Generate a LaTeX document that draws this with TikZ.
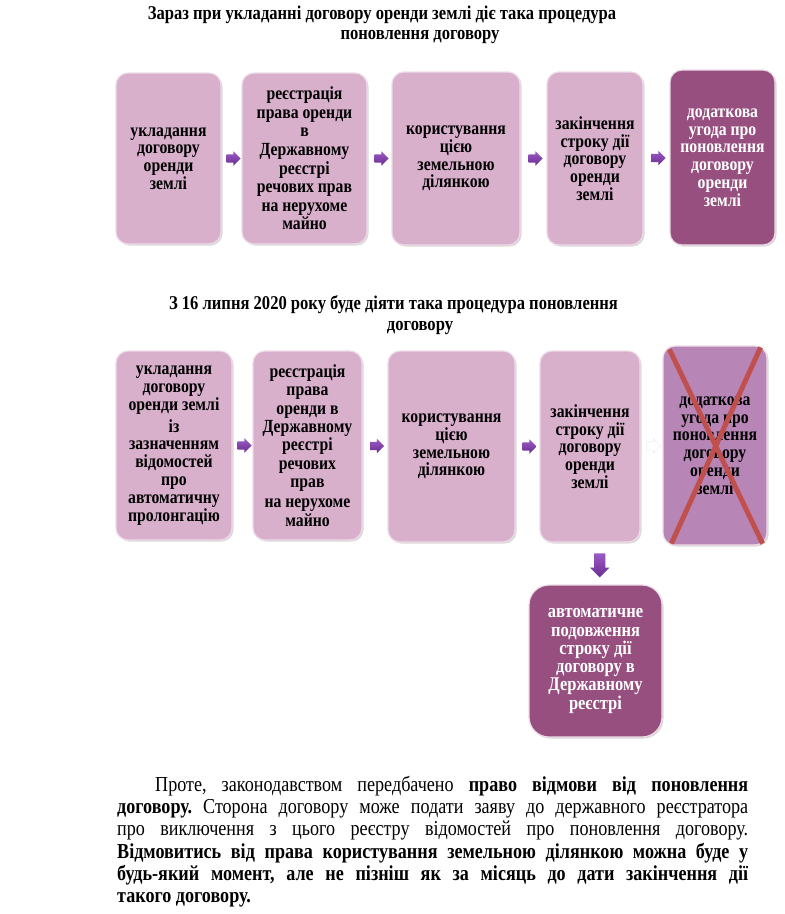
\documentclass[tikz,border=0pt]{standalone}
\usepackage{fontspec}
\setmainfont{Liberation Serif}[FakeStretch=0.85]
\usetikzlibrary{shapes.arrows,shadows,calc}
\definecolor{stagepink}{HTML}{D9B0CC}
\definecolor{stageplum}{HTML}{964F7F}
\definecolor{stagemauve}{HTML}{B886B6}
\definecolor{crossred}{HTML}{C0504D}
\definecolor{arrowtop}{HTML}{9A5BC6}
\definecolor{arrowbot}{HTML}{6B2D90}
\newcommand\boxfont{\fontsize{18.5}{17.8}\selectfont\bfseries}
\newcommand\headfont{\fontsize{19.5}{21}\selectfont\bfseries}
\newcommand\parafont{\fontsize{21.3}{22.2}\selectfont\frenchspacing}
\tikzset{
  stage/.style={rounded corners=12pt, fill=stagepink, draw=white!55!stagepink, line width=1.2pt,
    align=center, inner sep=0pt, font=\boxfont,
    drop shadow={shadow xshift=1.5pt, shadow yshift=-1.5pt, opacity=0.3}},
  plumstage/.style={stage, fill=stageplum, text=white},
  flowarrow/.style={single arrow, single arrow head extend=3pt, minimum height=14pt,
    inner sep=4pt, top color=arrowtop, bottom color=arrowbot, draw=none},
  ghostarrow/.style={flowarrow, top color=white, bottom color=white, draw=black!8},
  heading/.style={font=\headfont, inner sep=0pt},
  crossline/.style={crossred, line width=5pt},
}
\begin{document}
\begin{tikzpicture}[x=1pt, y=-1pt]
    \useasboundingbox [fill=white] (0,0) rectangle (785,914);

    \node [heading] (t1a) at (382,15) {Зараз при укладанні договору оренди землі діє така процедура};
    \node [heading] (t1b) at (420,37) {поновлення договору};

    \node [stage, minimum width=105, minimum height=171] (r1a) at (168.5,158.5) {укладання\\договору\\оренди\\землі};
    \node [stage, minimum width=125, minimum height=171, font=\fontsize{18.5}{18.6}\selectfont\bfseries] (r1b) at (304.5,158.5) {реєстрація\\права оренди\\в\\Державному\\реєстрі\\речових прав\\на нерухоме\\майно};
    \node [stage, minimum width=128, minimum height=173] (r1c) at (456,158.5) {користування\\цією\\земельною\\ділянкою};
    \node [stage, minimum width=96, minimum height=173] (r1d) at (595,158.5) {закінчення\\строку дії\\договору\\оренди\\землі};
    \node [plumstage, minimum width=105, minimum height=175] (r1e) at (722.5,157.5) {додаткова\\угода про\\поновлення\\договору\\оренди\\землі};

    \node [flowarrow] at ($(r1a.east)!0.5!(r1b.west)$) {};
    \node [flowarrow] at ($(r1b.east)!0.5!(r1c.west)$) {};
    \node [flowarrow] at ($(r1c.east)!0.5!(r1d.west)$) {};
    \node [flowarrow] at ($(r1d.east)!0.5!(r1e.west)$) {};

    \node [heading] (t2a) at (393.5,305) {З 16 липня 2020 року буде діяти така процедура поновлення};
    \node [heading] (t2b) at (420,328) {договору};

    \node [stage, minimum width=116, minimum height=189] (r2a) at (174,445.5) {укладання\\договору\\оренди землі\\[4pt]із\\зазначенням\\відомостей\\про\\автоматичну\\пролонгацію};
    \node [stage, minimum width=109, minimum height=189, font=\fontsize{18.5}{18.3}\selectfont\bfseries] (r2b) at (307.5,445.5) {реєстрація\\права\\оренди в\\Державному\\реєстрі\\речових\\прав\\[2pt]на нерухоме\\майно};
    \node [stage, minimum width=127, minimum height=191] (r2c) at (451.5,446.5) {користування\\цією\\земельною\\ділянкою};
    \node [stage, minimum width=100, minimum height=191] (r2d) at (590,446.5) {закінчення\\строку дії\\договору\\оренди\\землі};
    \node [stage, fill=stagemauve, minimum width=104, minimum height=199] (r2e) at (715,445.5) {додаткова\\угода про\\поновлення\\договору\\оренди\\землі};
    \draw [crossline] ([shift={(7,4)}]r2e.north west) -- ([shift={(-5,-2)}]r2e.south east);
    \draw [crossline] ([shift={(-7,2)}]r2e.north east) -- ([shift={(9,-2)}]r2e.south west);

    \node [plumstage, rounded corners=20pt, minimum width=133, minimum height=152, font=\fontsize{19.4}{18.3}\selectfont\bfseries] (auto) at (595.5,661) {автоматичне\\подовження\\строку дії\\договору в\\Державному\\реєстрі};

    \node [flowarrow] at ($(r2a.east)!0.5!(r2b.west)$) {};
    \node [flowarrow] at ($(r2b.east)!0.5!(r2c.west)$) {};
    \node [flowarrow] at ($(r2c.east)!0.5!(r2d.west)$) {};
    \node [ghostarrow] at ($(r2d.east)!0.5!(r2e.west)$) {};
    \node [flowarrow, shape border rotate=270, minimum height=24pt, inner sep=5.5pt, single arrow head extend=4pt] at ($(r2d.south)!0.5!(auto.north)+(7,-1)$) {};

    \node [font=\parafont, text width=631pt, align=justify, inner sep=0pt, anchor=north west] (para) at (117,776) {\hspace*{38pt}Проте, законодавством передбачено \textbf{право відмови від поновлення}\linebreak
      \textbf{договору.} Сторона договору може подати заяву до державного реєстратора\linebreak
      про виключення з цього реєстру відомостей про поновлення договору.\linebreak
      \textbf{Відмовитись від права користування земельною ділянкою можна буде у\linebreak
      будь-який момент, але не пізніш як за місяць до дати закінчення дії\linebreak
      такого договору.}};
\end{tikzpicture}
\end{document}
